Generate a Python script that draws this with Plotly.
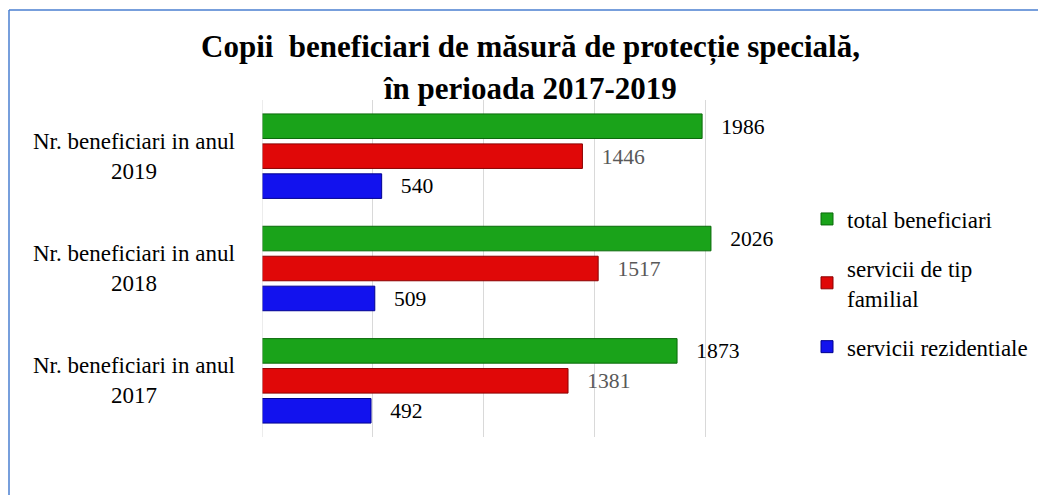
import plotly.graph_objects as go

years = ["2017", "2018", "2019"]
categories = ["Nr. beneficiari in anul<br>" + y for y in years]
total = [1873, 2026, 1986]
familial = [1381, 1517, 1446]
rezidential = [492, 509, 540]
title_lines = ["Copii \u00a0beneficiari de măsură de protecție specială,", "în perioada 2017-2019"]

FONT = "Liberation Serif, Times New Roman, serif"
pad = "\u00a0" * 3

fig = go.Figure()
fig.add_trace(go.Bar(
    y=categories, x=rezidential, orientation="h", name="servicii rezidentiale",
    legendgroup="c", legendrank=3,
    marker=dict(color="#1212EE", line=dict(color="#000090", width=1)),
    text=[pad + str(v) for v in rezidential], textposition="outside",
    textfont=dict(color="#000000", size=22, family=FONT), cliponaxis=False,
))
fig.add_trace(go.Bar(
    y=categories, x=familial, orientation="h", name="servicii de tip<br>familial",
    legendgroup="b", legendrank=2,
    marker=dict(color="#E00808", line=dict(color="#8B0000", width=1)),
    text=[pad + str(v) for v in familial], textposition="outside",
    textfont=dict(color="#595959", size=22, family=FONT), cliponaxis=False,
))
fig.add_trace(go.Bar(
    y=categories, x=total, orientation="h", name="total beneficiari",
    legendgroup="a", legendrank=1,
    marker=dict(color="#1AA31A", line=dict(color="#0A6A0A", width=1)),
    text=[pad + str(v) for v in total], textposition="outside",
    textfont=dict(color="#000000", size=22, family=FONT), cliponaxis=False,
))

# page body has an 8px margin: figure drawn at (8, 8)
OFF = 8
W, H = 1046 - OFF, 495 - OFF
L, R, T, B = 262 - OFF, 230, 100 - OFF, 58
pw, ph = W - L - R, H - T - B

def px(xp):
    return (xp - OFF - L) / pw

def py(yp):
    return (H - B - (yp - OFF)) / ph

annotations = []
for cat in categories:
    annotations.append(dict(
        x=px(134), xref="paper", y=cat, yref="y", text=cat, showarrow=False,
        xanchor="center", yanchor="middle", align="center",
        font=dict(family=FONT, size=23, color="#000000"),
    ))
for i, line in enumerate(title_lines):
    annotations.append(dict(
        x=px(530), xref="paper", y=py(47 + 41 * i), yref="paper", text="<b>" + line + "</b>",
        showarrow=False, xanchor="center", yanchor="middle",
        font=dict(family=FONT, size=31, color="#000000"),
    ))

fig.update_layout(
    width=W, height=H,
    margin=dict(l=L, r=R, t=T, b=B, autoexpand=False),
    paper_bgcolor="white", plot_bgcolor="white",
    barmode="group", bargap=0.2, bargroupgap=0.18,
    font=dict(family=FONT, size=22, color="#000000"),
    xaxis=dict(range=[0, 2500], dtick=500, showticklabels=False, showgrid=True,
               gridcolor="#D9D9D9", gridwidth=1, zeroline=False, showline=False, ticks="",
               automargin=False),
    yaxis=dict(type="category", showgrid=False, showline=False, zeroline=False, ticks="",
               showticklabels=False, automargin=False),
    legend=dict(traceorder="grouped", x=px(807), xanchor="left", y=py(283), yanchor="middle",
                font=dict(size=23, family=FONT, color="#000000"), itemwidth=30,
                tracegroupgap=16, bgcolor="rgba(0,0,0,0)"),
    showlegend=True,
    annotations=annotations,
    shapes=[
        dict(type="line", xref="paper", yref="paper", x0=px(9), x1=px(1046), y0=py(10), y1=py(10),
             line=dict(color="#4A7FD0", width=1.5)),
        dict(type="line", xref="paper", yref="paper", x0=px(9), x1=px(9), y0=py(10), y1=py(495),
             line=dict(color="#4A7FD0", width=1.5)),
        dict(type="line", xref="x", yref="paper", x0=0, x1=0, y0=0, y1=1,
             line=dict(color="#D9D9D9", width=1)),
    ],
)

fig.write_html("out.html")
